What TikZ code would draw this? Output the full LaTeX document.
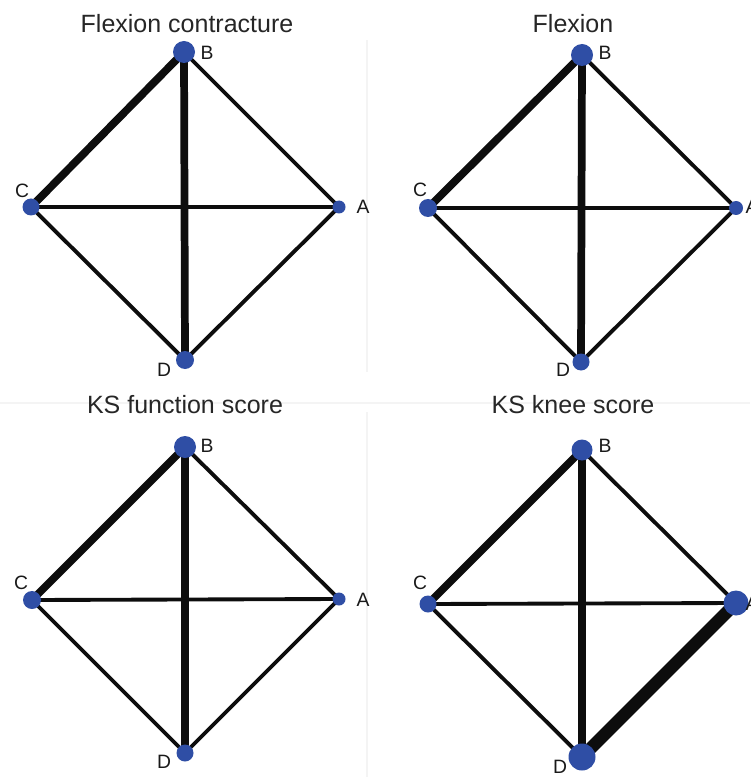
\documentclass[tikz,border=0pt]{standalone}
\usepackage{fontspec}
\setmainfont{Liberation Sans}
\usetikzlibrary{backgrounds}
\definecolor{nblue}{RGB}{47,78,165}
\definecolor{faint}{RGB}{244,244,244}
\tikzset{
  nd/.style={circle, fill=nblue, inner sep=0pt, minimum size={#1*0.75pt}},
  ttl/.style={anchor=base, inner sep=0pt, font=\fontsize{18.75}{22}\selectfont, text=black!85},
  lbl/.style={anchor=base, inner sep=0pt, font=\fontsize{14.5}{16}\selectfont, text=black!90},
  thin edge/.style={line width=2.9pt, draw=black!95},
  thick edge/.style={line width=5.8pt, draw=black!95},
  vthick edge/.style={line width=9.5pt, draw=black!95},
  sep/.style={line width=1pt, draw=faint}
}
\begin{document}
\begin{tikzpicture}[x=0.75pt, y=-0.75pt]
\useasboundingbox (0,0) rectangle (750,777);
% faint separators
\begin{scope}[on background layer]
\draw[sep] (367,40) -- (367,372);
\draw[sep] (367,412) -- (367,777);
\draw[sep] (0,403) -- (750,403);
\end{scope}

% ---------- Panel 1 ----------
\node[ttl] (t1) at (187,33) {Flexion contracture};
\node[nd=22] (p1B) at (184,52) {};
\node[nd=17] (p1C) at (31,207) {};
\node[nd=13] (p1A) at (339,207) {};
\node[nd=18] (p1D) at (185,360) {};
\node[lbl] (p1Bl) at (207,60) {B};
\node[lbl] (p1Cl) at (22,198) {C};
\node[lbl] (p1Al) at (363,214) {A};
\node[lbl] (p1Dl) at (164,376) {D};
\begin{scope}[on background layer]
\draw[thin edge] (p1C.center) -- (p1A.center);
\draw[thin edge] (p1B.center) -- (p1A.center);
\draw[thin edge] (p1C.center) -- (p1D.center);
\draw[thin edge] (p1A.center) -- (p1D.center);
\draw[thick edge] (p1C.center) -- (p1B.center);
\draw[thick edge] (p1B.center) -- (p1D.center);
\end{scope}

% ---------- Panel 2 ----------
\node[ttl] (t2) at (573,33) {Flexion};
\node[nd=22] (p2B) at (582,55) {};
\node[nd=18] (p2C) at (428,208) {};
\node[nd=14] (p2A) at (736,208) {};
\node[nd=17] (p2D) at (581,362) {};
\node[lbl] (p2Bl) at (605,60) {B};
\node[lbl] (p2Cl) at (420,197) {C};
\node[lbl] (p2Al) at (752,214) {A};
\node[lbl] (p2Dl) at (563,376) {D};
\begin{scope}[on background layer]
\draw[thin edge] (p2C.center) -- (p2A.center);
\draw[thin edge] (p2B.center) -- (p2A.center);
\draw[thin edge] (p2C.center) -- (p2D.center);
\draw[thin edge] (p2A.center) -- (p2D.center);
\draw[thick edge] (p2C.center) -- (p2B.center);
\draw[thick edge] (p2B.center) -- (p2D.center);
\end{scope}

% ---------- Panel 3 ----------
\node[ttl] (t3) at (185,413) {KS function score};
\node[nd=22] (p3B) at (185,447) {};
\node[nd=18] (p3C) at (32,600) {};
\node[nd=13] (p3A) at (339,599) {};
\node[nd=17] (p3D) at (185,753) {};
\node[lbl] (p3Bl) at (207,452) {B};
\node[lbl] (p3Cl) at (21,589) {C};
\node[lbl] (p3Al) at (363,606) {A};
\node[lbl] (p3Dl) at (164,768) {D};
\begin{scope}[on background layer]
\draw[thin edge] (p3C.center) -- (p3A.center);
\draw[thin edge] (p3B.center) -- (p3A.center);
\draw[thin edge] (p3C.center) -- (p3D.center);
\draw[thin edge] (p3A.center) -- (p3D.center);
\draw[thick edge] (p3C.center) -- (p3B.center);
\draw[thick edge] (p3B.center) -- (p3D.center);
\end{scope}

% ---------- Panel 4 ----------
\node[ttl] (t4) at (573,413) {KS knee score};
\node[nd=21] (p4B) at (582,450) {};
\node[nd=17] (p4C) at (428,604) {};
\node[nd=25] (p4A) at (736,603) {};
\node[nd=27] (p4D) at (582,757) {};
\node[lbl] (p4Bl) at (605,452) {B};
\node[lbl] (p4Cl) at (420,589) {C};
\node[lbl] (p4Al) at (752,610) {A};
\node[lbl] (p4Dl) at (560,773) {D};
\begin{scope}[on background layer]
\draw[thin edge] (p4C.center) -- (p4A.center);
\draw[thin edge] (p4B.center) -- (p4A.center);
\draw[thin edge] (p4C.center) -- (p4D.center);
\draw[thick edge] (p4C.center) -- (p4B.center);
\draw[thick edge] (p4B.center) -- (p4D.center);
\draw[vthick edge] (p4A.center) -- (p4D.center);
\end{scope}
\end{tikzpicture}
\end{document}
